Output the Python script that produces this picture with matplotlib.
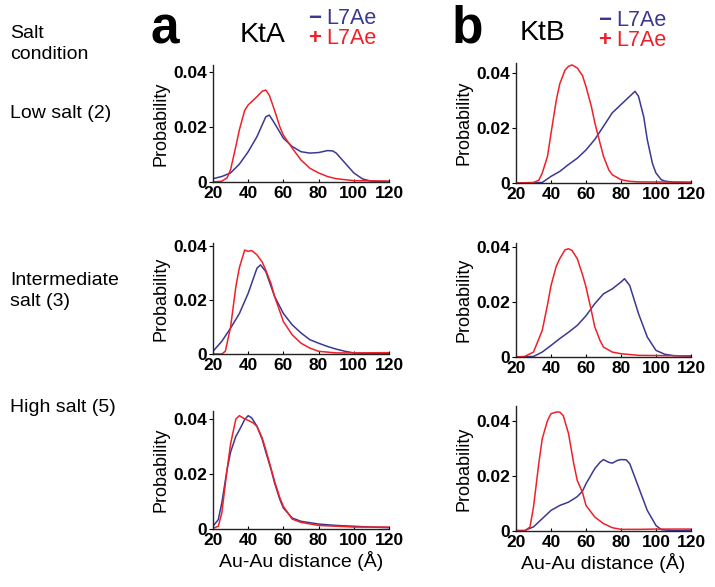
import matplotlib
matplotlib.use("Agg")
import matplotlib.pyplot as plt

plt.rcParams['font.family'] = ['Liberation Sans', 'DejaVu Sans']

BLUE = '#3b3892'
RED = '#ee2128'

# ---------------- data ----------------
ktA_low_minus_x = [20,25,30,35,40,45,50,52,55,60,65,70,75,80,85,88,90,95,100,105,110,120]
ktA_low_minus_y = [0.0012,0.002,0.0033,0.0065,0.011,0.0165,0.0237,0.0243,0.0213,0.0159,0.0129,0.011,0.0105,0.0107,0.0114,0.0113,0.0105,0.0069,0.0033,0.0011,0.0003,0.0002]
ktA_low_plus_x = [20,25,28,30,33,35,38,40,43,45,48,50,52,55,58,60,65,70,75,80,85,90,100,120]
ktA_low_plus_y = [0,0.0003,0.0015,0.0045,0.013,0.019,0.026,0.028,0.0298,0.031,0.033,0.0334,0.0315,0.026,0.020,0.017,0.0123,0.008,0.005,0.0033,0.002,0.0012,0.0005,0.0003]

ktB_low_minus_x = [20,30,35,40,45,50,55,60,65,70,75,80,85,88,90,93,95,98,100,103,105,110,120]
ktB_low_minus_y = [0,0,0.0002,0.0024,0.0042,0.0067,0.009,0.012,0.0158,0.0206,0.0255,0.0285,0.0315,0.0333,0.0315,0.024,0.0158,0.007,0.0036,0.0012,0.0007,0.0003,0.0002]
ktB_low_plus_x = [20,30,33,35,38,40,43,45,48,50,52,55,58,60,63,65,68,70,73,75,80,85,90,120]
ktB_low_plus_y = [0,0.0002,0.001,0.0036,0.0097,0.018,0.030,0.036,0.041,0.0424,0.0429,0.0418,0.039,0.035,0.028,0.022,0.0145,0.0097,0.0048,0.003,0.0012,0.0006,0.0004,0.0003]

ktA_int_minus_x = [20,25,30,35,40,45,47,50,55,60,65,70,75,80,85,90,95,100,105,120]
ktA_int_minus_y = [0.001,0.0047,0.0096,0.015,0.0225,0.0318,0.033,0.0305,0.0213,0.015,0.0108,0.0078,0.0053,0.004,0.0028,0.0018,0.001,0.0004,0.0002,0.0002]
ktA_int_plus_x = [20,25,27,30,33,35,38,40,42,45,48,50,53,55,60,65,70,75,80,90,100,120]
ktA_int_plus_y = [0,0,0.001,0.010,0.025,0.032,0.0385,0.038,0.0383,0.0367,0.034,0.031,0.026,0.0213,0.012,0.0071,0.004,0.0022,0.001,0.0004,0.0004,0.0005]

ktB_int_minus_x = [20,30,35,40,45,50,55,60,65,70,75,80,82,85,90,95,100,105,110,120]
ktB_int_minus_y = [0,0.0002,0.0018,0.0042,0.0067,0.009,0.0115,0.015,0.0194,0.023,0.0248,0.0273,0.0285,0.026,0.0158,0.0073,0.0024,0.001,0.0005,0.0003]
ktB_int_plus_x = [20,25,30,35,38,40,43,45,48,50,52,55,58,60,63,65,68,70,75,80,90,120]
ktB_int_plus_y = [0,0.0002,0.0018,0.0097,0.019,0.026,0.033,0.0358,0.039,0.0394,0.0388,0.0358,0.030,0.0255,0.017,0.011,0.006,0.0036,0.0018,0.0012,0.0006,0.0004]

ktA_high_minus_x = [20,23,25,28,30,33,35,38,40,42,45,48,50,53,55,58,60,65,70,80,90,100,110,120]
ktA_high_minus_y = [0.001,0.0034,0.0095,0.0216,0.028,0.0337,0.036,0.0398,0.0412,0.0404,0.0373,0.0325,0.028,0.0216,0.0167,0.0107,0.0076,0.004,0.0028,0.0018,0.0013,0.001,0.0007,0.0005]
ktA_high_plus_x = [20,23,25,28,30,33,35,38,40,43,45,48,50,53,55,58,60,65,70,80,90,100,110,120]
ktA_high_plus_y = [0.0002,0.001,0.0058,0.0216,0.031,0.040,0.0412,0.040,0.0395,0.0385,0.0373,0.033,0.0288,0.022,0.0173,0.0113,0.0082,0.0036,0.0024,0.0013,0.001,0.0007,0.0007,0.0007]

ktB_high_minus_x = [20,25,30,35,40,45,50,55,58,60,65,68,70,73,75,78,80,83,85,90,95,100,103,110,120]
ktB_high_minus_y = [0.0002,0.0002,0.0015,0.0045,0.0075,0.0093,0.0105,0.0125,0.0145,0.0172,0.0227,0.025,0.026,0.025,0.0247,0.0257,0.026,0.0259,0.0245,0.016,0.0075,0.002,0.0005,0.0001,0.0002]
ktB_high_plus_x = [20,25,28,30,33,35,38,40,43,45,47,50,53,55,58,60,65,70,75,80,90,100,120]
ktB_high_plus_y = [0,0,0.0015,0.0087,0.0245,0.0336,0.0402,0.0427,0.0433,0.0433,0.042,0.0355,0.0245,0.0184,0.014,0.0093,0.0051,0.0027,0.0012,0.0006,0.0006,0.0007,0.0007]

x_ticks = [20, 40, 60, 80, 100, 120]
y_ticks = [0, 0.02, 0.04]
y_tick_labels = ['0', '0.02', '0.04']
row_labels = ['Low salt (2)', 'Intermediate\nsalt (3)', 'High salt (5)']
construct_titles = ['KtA', 'KtB']
panel_letters = ['a', 'b']

W, H = 715, 587
fig = plt.figure(figsize=(W / 100, H / 100), dpi=100)

def px_axes(x0, y0, x1, y1):
    return fig.add_axes([x0 / W, 1 - y1 / H, (x1 - x0) / W, (y1 - y0) / H])

panels = [
    ((213, 65, 389, 182), 0.0425, (ktA_low_minus_x, ktA_low_minus_y), (ktA_low_plus_x, ktA_low_plus_y), False),
    ((516, 63, 691, 183), 0.0436, (ktB_low_minus_x, ktB_low_minus_y), (ktB_low_plus_x, ktB_low_plus_y), False),
    ((213, 243, 389, 354), 0.0411, (ktA_int_minus_x, ktA_int_minus_y), (ktA_int_plus_x, ktA_int_plus_y), False),
    ((516, 243, 691, 357), 0.0415, (ktB_int_minus_x, ktB_int_minus_y), (ktB_int_plus_x, ktB_int_plus_y), False),
    ((213, 411, 389, 529), 0.0429, (ktA_high_minus_x, ktA_high_minus_y), (ktA_high_plus_x, ktA_high_plus_y), True),
    ((516, 406, 691, 531), 0.0455, (ktB_high_minus_x, ktB_high_minus_y), (ktB_high_plus_x, ktB_high_plus_y), True),
]

for box, ytop, minus, plus, xl in panels:
    ax = px_axes(*box)
    ax.plot(minus[0], minus[1], color=BLUE, lw=1.1)
    ax.plot(plus[0], plus[1], color=RED, lw=1.1)
    ax.set_xlim(20, 120)
    ax.set_ylim(0, ytop)
    ax.set_xticks(x_ticks)
    ax.set_yticks(y_ticks)
    ax.set_yticklabels(y_tick_labels)
    for s in ('top', 'right'):
        ax.spines[s].set_visible(False)
    for s in ('left', 'bottom'):
        ax.spines[s].set_linewidth(1.0)
        ax.spines[s].set_color('#222222')
    ax.tick_params(axis='x', direction='in', length=2, pad=3, labelsize=12.5)
    ax.tick_params(axis='y', direction='out', length=3, pad=1, labelsize=12.5)
    for lab in ax.get_xticklabels() + ax.get_yticklabels():
        lab.set_fontweight('bold')
    ax.set_ylabel('Probability', fontsize=13, labelpad=3)
    if xl:
        ax.set_xlabel('Au-Au distance (Å)', fontsize=14, labelpad=2)

# Left column labels
fig.text(10 / W, 1 - 44 / H, 'Salt\ncondition', fontsize=14, ha='left', va='center', linespacing=1.25)
fig.text(10 / W, 1 - 113 / H, row_labels[0], fontsize=14, ha='left', va='center')
fig.text(10 / W, 1 - 291 / H, row_labels[1], fontsize=14, ha='left', va='center', linespacing=1.3)
fig.text(10 / W, 1 - 408 / H, row_labels[2], fontsize=14, ha='left', va='center')

# Panel letters and titles
fig.text(150 / W, 1 - 30 / H, panel_letters[0], fontsize=37, fontweight='bold', ha='left', va='center')
fig.text(452 / W, 1 - 29 / H, panel_letters[1], fontsize=37, fontweight='bold', ha='left', va='center')
fig.text(263 / W, 1 - 35 / H, construct_titles[0], fontsize=20.5, ha='center', va='center')
fig.text(543 / W, 1 - 33 / H, construct_titles[1], fontsize=20.5, ha='center', va='center')

# Legends
for lx, ly in ((306, 19), (596, 21)):
    fig.text((lx + 2) / W, 1 - ly / H, '−', fontsize=16, fontweight='bold', color=BLUE, ha='left', va='center')
    fig.text((lx + 20) / W, 1 - ly / H, 'L7Ae', fontsize=15.5, color=BLUE, ha='left', va='center')
    fig.text((lx + 2) / W, 1 - (ly + 19) / H, '+', fontsize=16, fontweight='bold', color=RED, ha='left', va='center')
    fig.text((lx + 20) / W, 1 - (ly + 19) / H, 'L7Ae', fontsize=15.5, color=RED, ha='left', va='center')

fig.savefig('out.png', dpi=100)
